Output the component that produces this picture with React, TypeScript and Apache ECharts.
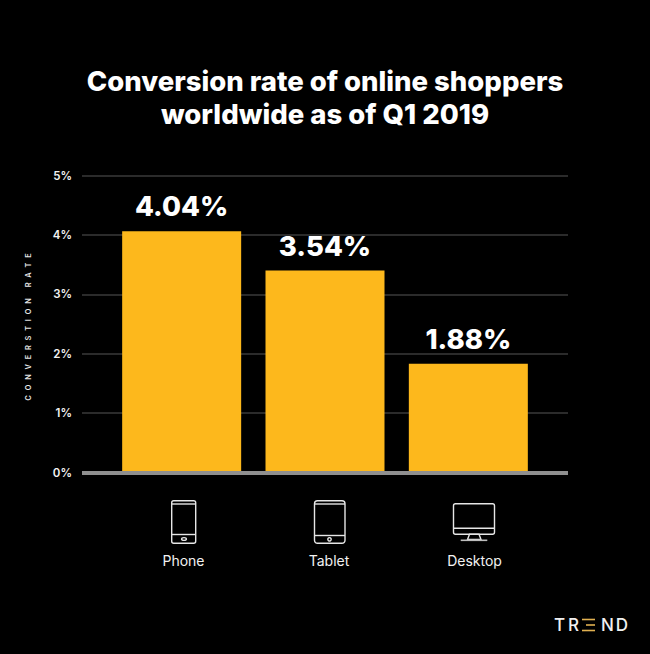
import React, { useEffect, useRef } from "react";
import * as echarts from "echarts";

const titleLines = ["Conversion rate of online shoppers", "worldwide as of Q1 2019"];
const categories = ["Phone", "Tablet", "Desktop"];
const barHeights = [4.06, 3.4, 1.83];
const barLabels = ["4.04%", "3.54%", "1.88%"];
const yAxisWords = ["CONVERSTION", "RATE"];
const FONT = "Inter, 'Noto Sans', sans-serif";
const WHITE = "#f2f2f2";

// Spread the letters: ECharts text has no letter spacing of its own.
const yAxisName = yAxisWords.map((w) => w.split("").join("\u2002\u2009")).join("\u2002\u2002\u2002");

const stroke = { stroke: "#e6e6e6", lineWidth: 1.4, fill: "transparent" };
const ln = (x1: number, y1: number, x2: number, y2: number, style: any = stroke) => ({
  type: "line", shape: { x1, y1, x2, y2 }, style, silent: true,
});
const rect = (x: number, y: number, width: number, height: number, r: number) => ({
  type: "rect", shape: { x, y, width, height, r }, style: stroke, silent: true,
});
const gold = { stroke: "#e0b050", lineWidth: 1.6 };
const letter = (text: string, x: number) => ({
  type: "text", x, y: 625, silent: true,
  style: { text, fill: "#f0f0f0", font: `500 17px ${FONT}`, align: "center", verticalAlign: "middle" },
});

export default function App() {
  const ref = useRef<HTMLDivElement>(null);
  useEffect(() => {
    const chart = echarts.init(ref.current!, undefined, { renderer: "svg" });
    const hiddenY = (gridIndex: number) => ({
      type: "value", gridIndex, min: 0, max: 5, show: false,
    });
    chart.setOption({
      animation: false,
      backgroundColor: "#000000",
      grid: [
        { left: 82, right: 82, top: 175.5, bottom: 181.5 },
        { left: 110, right: 110, top: 175.5, bottom: 181.5 },
        { left: 110.75, right: 102.75, top: 175.5, bottom: 181.5 },
      ],
      xAxis: [
        {
          type: "category", gridIndex: 0, data: categories, z: 5,
          axisLine: { show: true, lineStyle: { color: "#8f8f8f", width: 4, cap: "butt" } },
          axisTick: { show: false }, axisLabel: { show: false },
        },
        {
          type: "category", gridIndex: 1, data: categories,
          axisLine: { show: false }, axisTick: { show: false }, axisLabel: { show: false },
        },
        {
          type: "category", gridIndex: 2, data: categories,
          axisLine: { show: false }, axisTick: { show: false },
          axisLabel: { color: WHITE, fontFamily: FONT, fontSize: 14, fontWeight: 400, margin: 81 },
        },
      ],
      yAxis: [
        {
          type: "value", gridIndex: 0, min: 0, max: 5, interval: 1,
          axisLine: { show: false }, axisTick: { show: false },
          axisLabel: {
            formatter: "{value}%", color: WHITE, fontFamily: FONT,
            fontSize: 11.5, fontWeight: 600, margin: 10,
          },
          splitLine: { lineStyle: { color: "#3a3a3a", width: 1.5 } },
        },
        hiddenY(1),
        hiddenY(2),
      ],
      series: [
        {
          type: "bar", xAxisIndex: 1, yAxisIndex: 1, data: barHeights, barWidth: 119, z: 2,
          itemStyle: { color: "#fdb81c" },
          label: {
            show: true, position: "top", distance: 11,
            formatter: (p: any) => barLabels[p.dataIndex],
            color: "#ffffff", fontFamily: FONT, fontSize: 27.5, fontWeight: 800,
          },
        },
      ],
      graphic: [
        ...titleLines.map((text, i) => ({
          type: "text", x: 325, y: 81 + i * 33, silent: true,
          style: { text, fill: "#ffffff", font: `800 27.5px ${FONT}`, align: "center", verticalAlign: "middle" },
        })),
        {
          type: "text", x: 28.3, y: 327, rotation: Math.PI / 2, silent: true,
          style: { text: yAxisName, fill: "#e8e8e8", font: `600 7.3px ${FONT}`, align: "center", verticalAlign: "middle" },
        },
        // Phone icon
        rect(171.7, 500.7, 24, 42.6, 2),
        ln(171.7, 504, 195.7, 504),
        ln(171.7, 534.5, 195.7, 534.5),
        { type: "ellipse", shape: { cx: 184, cy: 539, rx: 2.4, ry: 1.4 }, style: stroke, silent: true },
        // Tablet icon
        rect(314.5, 500.7, 30.5, 42.6, 3),
        ln(314.5, 504, 345, 504),
        ln(314.5, 535.5, 345, 535.5),
        { type: "circle", shape: { cx: 329.5, cy: 539.3, r: 1.7 }, style: stroke, silent: true },
        // Desktop icon
        rect(453.5, 503.7, 41, 30.6, 2),
        ln(453.5, 528.3, 494.5, 528.3),
        {
          type: "polygon", silent: true, style: stroke,
          shape: { points: [[469.5, 534.3], [467.5, 539.5], [481, 539.5], [479, 534.3]] },
        },
        ln(460.7, 540.3, 487.3, 540.3, { ...stroke, lineWidth: 1.6, stroke: "#bdbdbd" }),
        // Logo
        letter("T", 559.5),
        letter("R", 573.5),
        ln(582, 619.5, 595, 619.5, gold),
        ln(586, 625, 595, 625, gold),
        ln(582, 630.5, 595, 630.5, gold),
        letter("N", 607.5),
        letter("D", 622),
      ],
    });
    return () => chart.dispose();
  }, []);
  return (
    <div
      ref={ref}
      style={{ position: "absolute", left: 0, top: 0, width: 650, height: 654 }}
    />
  );
}
